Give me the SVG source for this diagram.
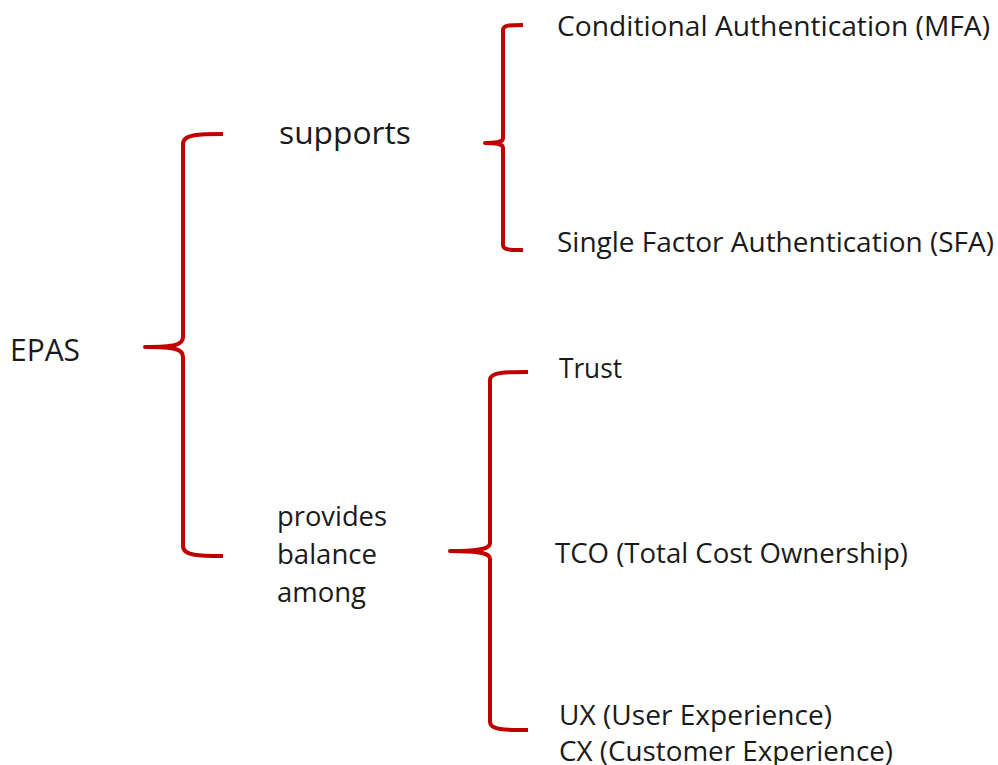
<svg xmlns="http://www.w3.org/2000/svg" width="998" height="765" viewBox="0 0 998 765">
<style>
.b{fill:none;stroke:#C00000;stroke-width:4;stroke-linecap:butt;stroke-linejoin:round}
text{font-family:"Open Sans","Noto Sans","Liberation Sans",sans-serif;fill:#1a1a1a}
.l{font-size:31px}
.m{font-size:27px}
</style>
<rect width="998" height="765" fill="#fff"/>
<g id="connectors">
<path class="b" d="M223,134 C200,134 183,134 183,144 L183,337 C183,345 175,347 145,347 C175,347 183,349 183,357 L183,546 C183,556 200,556 223,556"/>
<path class="b" d="M523,25 C510,25 503,25 503,30 L503,138 C503,142 498,143 485,143 C498,143 503,144 503,148 L503,245 C503,250 510,250 523,250"/>
<path class="b" d="M528,372 C505,372 490,372 490,380 L490,543 C490,549 480,551 450,551 C480,551 490,553 490,559 L490,722 C490,730 505,730 528,730"/>
</g>
<g id="epas"><text class="l" x="10" y="361" textLength="70" lengthAdjust="spacingAndGlyphs">EPAS</text></g>
<g id="supports"><text class="l" x="279" y="144" textLength="132" lengthAdjust="spacingAndGlyphs">supports</text></g>
<g id="mfa"><text class="m" x="557" y="36" textLength="433" lengthAdjust="spacingAndGlyphs">Conditional Authentication (MFA)</text></g>
<g id="sfa"><text class="m" x="557" y="252" textLength="437" lengthAdjust="spacingAndGlyphs">Single Factor Authentication (SFA)</text></g>
<g id="provides"><text class="m" x="277" y="526" textLength="110" lengthAdjust="spacingAndGlyphs">provides</text><text class="m" x="277" y="564" textLength="100" lengthAdjust="spacingAndGlyphs">balance</text><text class="m" x="277" y="602" textLength="89" lengthAdjust="spacingAndGlyphs">among</text></g>
<g id="trust"><text class="m" x="559" y="378" textLength="63" lengthAdjust="spacingAndGlyphs">Trust</text></g>
<g id="tco"><text class="m" x="555" y="563" textLength="353" lengthAdjust="spacingAndGlyphs">TCO (Total Cost Ownership)</text></g>
<g id="uxcx"><text class="m" x="559" y="725" textLength="273" lengthAdjust="spacingAndGlyphs">UX (User Experience)</text><text class="m" x="559" y="761" textLength="334" lengthAdjust="spacingAndGlyphs">CX (Customer Experience)</text></g>
</svg>
